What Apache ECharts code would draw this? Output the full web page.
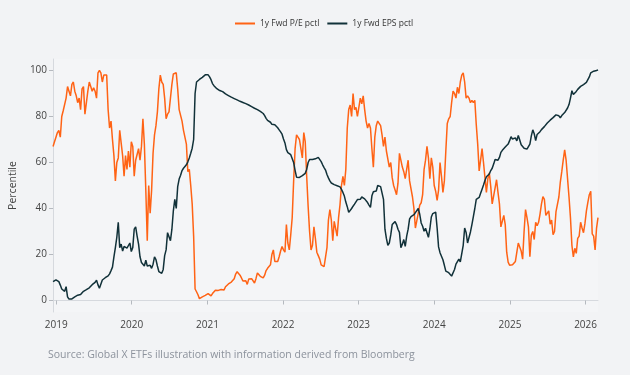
<!DOCTYPE html>
<html>
<head>
<meta charset="utf-8">
<script src="https://cdn.jsdelivr.net/npm/echarts@6/dist/echarts.min.js"></script>
<style>
  html, body { margin: 0; padding: 0; background: #f2f3f5; }
  #chart { width: 630px; height: 375px; }
</style>
</head>
<body>
<div id="chart"></div>
<script>
// weekly observations starting 2018-12-17
const startDate = '2018-12-17';
const stepDays = 7;

const peSeries = [
  67, 69, 71, 73, 74, 71, 80, 82.5, 82, 88,
  93, 91, 89, 94, 95, 91, 89, 86, 88, 83,
  92, 93, 81, 86, 91, 95, 93, 91, 92.5, 91,
  88, 99, 100, 99, 95, 98, 98, 98, 83, 75,
  78, 70, 63, 52, 60, 62, 74, 74, 63, 54,
  63, 57, 65, 58, 69, 67, 54, 61, 61, 66,
  61, 67, 79, 68, 48, 26, 50, 38, 48, 64,
  72, 76, 82, 92, 98, 95, 94, 88, 79, 81,
  82, 88, 94, 98.5, 99, 99, 92, 83, 83, 78,
  74, 74, 68, 56, 57, 50, 42, 28, 5, 3.8,
  2.5, 0.8, 1.2, 1.6, 1, 2.2, 1.8, 3, 2.5, 2,
  3, 2.5, 4.5, 3.8, 4.4, 4, 4.8, 5, 4.6, 6,
  5.2, 7.2, 6.8, 8, 8.5, 9.5, 11.5, 12.5, 12.5, 11,
  9.8, 8.5, 8.7, 8.6, 7, 9.3, 8.8, 9.5, 9, 7.6,
  9.5, 12, 11.5, 10.5, 11, 9.8, 11, 13, 14, 14,
  15.5, 20, 22, 17, 17.5, 17, 19, 21.5, 23.5, 22,
  21, 33, 25, 22, 28.6, 36, 52, 66, 72, 71,
  70, 66, 62, 73, 69, 54, 41, 30, 22, 24,
  32, 27, 21, 19.5, 18, 15.5, 14.7, 14.7, 15.5, 23,
  35, 39.5, 35, 26, 34.4, 34, 28, 36, 41.7, 50,
  54, 50, 57, 75, 83, 85, 80, 90, 83, 84,
  80, 84, 88, 85.5, 89, 83, 78, 75, 77, 75,
  66, 58, 71, 76, 78, 78.5, 76, 72, 67, 71,
  65, 65, 58, 60, 53.4, 50, 48, 46, 51, 64,
  64, 58, 56, 53, 53, 61, 52, 52, 45, 40,
  31.5, 32, 38, 41.5, 42.5, 46, 57, 61, 67, 62,
  53, 62, 58, 50, 47.5, 43.5, 48, 60, 54, 47,
  52, 65, 77, 79, 80, 86, 91, 90, 88, 92.7,
  90, 95, 98, 99, 95, 88, 89, 88, 86, 87,
  86, 87, 76.5, 68, 56.3, 61, 66, 60, 53.5, 47,
  53, 55.5, 49.5, 42, 42, 49, 52.5, 47, 42, 32,
  32, 37, 33, 21, 16.7, 15.3, 14.9, 15.5, 16, 17,
  21, 25, 24.3, 21.5, 18, 30, 39.5, 36, 32, 19,
  28.5, 30, 26.5, 34, 32.5, 34, 37.6, 42, 45.2, 44,
  37, 38, 39, 33.2, 35, 28.6, 30, 38.5, 38.5, 45,
  51.5, 56, 61, 65.5, 61, 53, 45, 36, 24, 19,
  22.7, 20.5, 27, 28, 34, 31.5, 29.5, 33.5, 39, 42.7,
  46, 47.5, 29, 28, 22, 31.5, 36
];

const epsSeries = [
  8.2, 8.5, 9, 9, 8.2, 6.7, 5, 4.2, 4, 6,
  1.6, 0.6, 0.2, 0.7, 1.2, 1.6, 2.2, 2.3, 2.7, 2.6,
  3.3, 4, 4.3, 4.7, 5.3, 5.5, 6, 6.9, 7.3, 7.9,
  8.8, 6.8, 5.3, 5.8, 8.9, 9.5, 9.9, 10.2, 10.7, 11.6,
  13, 14.5, 19, 23, 27.5, 34, 23, 24.5, 21.5, 23.5,
  23.5, 22.8, 22, 25, 21.3, 23, 31, 32, 28, 24.5,
  19, 16.5, 16.6, 15, 17.5, 15, 15, 15.3, 14, 15.8,
  19, 17.8, 15, 12.6, 11.8, 11.8, 13.5, 19.5, 22, 29.5,
  29, 26, 31, 39, 44, 40, 49.5, 52.8, 54.5, 56.5,
  57.5, 57.5, 59, 60.3, 62, 64, 66.2, 70, 90, 95,
  95.8, 96.1, 96.5, 97, 97.8, 98.1, 98.5, 98.1, 97.2, 96,
  94.3, 93.4, 92.7, 92.1, 91.7, 91.3, 91.1, 90.8, 90.3, 89.8,
  89.4, 89.1, 88.7, 88.4, 88.1, 87.8, 87.5, 87.2, 86.9, 86.6,
  86.3, 86.1, 85.8, 85.6, 85.3, 85, 84.7, 84.3, 84, 83.6,
  83.3, 83, 82.7, 82.2, 81.8, 81.3, 80.4, 79.2, 78.3, 77.9,
  77.5, 76.6, 76, 76.4, 75.7, 75.1, 74.2, 73.3, 72.3, 70.2,
  68.5, 65.6, 64.3, 63.7, 63.4, 62.8, 60, 56.6, 53.6, 53,
  53.5, 54, 54.3, 54.7, 55.3, 57, 60, 61.3, 60.6, 61.3,
  61.8, 61.6, 62, 62.2, 61.8, 60.4, 59, 57.8, 56.7, 54.8,
  53.3, 52, 51.1, 50.7, 50.4, 51.1, 49.9, 50.2, 49.4, 48.3,
  47, 45.4, 42.8, 40.8, 38.3, 38.8, 40, 41, 41.9, 42.7,
  43.9, 44.6, 44, 45, 44.8, 44.2, 43.5, 42.6, 41.5, 40.5,
  45.5, 47.3, 47, 47.6, 50, 50.5, 49.5, 49, 44, 31,
  27, 24, 25, 28.5, 33, 32.8, 34.3, 33, 31, 29.6,
  23, 24.5, 26.5, 23.5, 28, 31, 35.5, 36.5, 36, 37.3,
  38.2, 38.2, 40, 37.5, 33.7, 32.3, 30.1, 31.4, 31, 27.5,
  31.2, 36.3, 37.8, 38.5, 38.4, 31.5, 23.3, 20.8, 20.2, 17.7,
  15.3, 12.8, 12.5, 12.1, 11.8, 10.6, 10.9, 13.5, 15.8, 16.4,
  18, 16.8, 16.2, 24, 31.5, 29.6, 25, 25.8, 29.8, 33,
  36.5, 40, 44, 44.7, 44.8, 46.6, 48.4, 50.2, 52.2, 53.8,
  54.3, 55, 56.5, 57.5, 59.3, 61.3, 61.4, 61, 62.2, 64.4,
  65.3, 66.1, 66.7, 67, 68, 69.5, 71.2, 70.2, 70, 70.7,
  69.4, 71.8, 69.8, 67.7, 66.9, 66.2, 66.5, 65.8, 66.1, 68,
  71.6, 74.2, 72.5, 69.5, 72.2, 73, 73.4, 74.3, 75, 75.6,
  76.4, 77.2, 77.8, 78.4, 78.9, 79.5, 80.1, 80.7, 80.8, 80.3,
  79.4, 80.4, 81, 81.7, 82.5, 83.7, 85.2, 88, 91.2, 89.6,
  89.8, 90.9, 91.8, 92.4, 93.1, 93.6, 93.9, 94.3, 94.8, 95.5,
  97.2, 99, 99.4, 99.7, 99.8, 100, 100.3
];

const yearTicks = ['2019', '2020', '2021', '2022', '2023', '2024', '2025', '2026'];
const yTicks = [0, 20, 40, 60, 80, 100];

const DAY = 24 * 3600 * 1000;
const t0 = Date.parse(startDate + 'T00:00:00Z');
const toPoints = (arr) => arr.map((v, i) => [t0 + i * stepDays * DAY, v]);
const tEnd = t0 + (peSeries.length - 1) * stepDays * DAY;
const yearValues = yearTicks.map((y) => Date.parse(y + '-01-01T00:00:00Z'));

const chart = echarts.init(document.getElementById('chart'));
chart.setOption({
  backgroundColor: '#f2f3f5',
  animation: false,
  textStyle: { fontFamily: 'Open Sans' },
  legend: {
    left: 230,
    top: 14,
    itemWidth: 20,
    itemHeight: 2,
    itemGap: 8,
    icon: 'rect',
    textStyle: { fontSize: 8.5, color: '#333' },
    data: ['1y Fwd P/E pctl', '1y Fwd EPS pctl']
  },
  grid: {
    left: 47,
    right: 32,
    top: 59,
    bottom: 63,
    show: true,
    backgroundColor: '#f4f5f7',
    borderWidth: 0
  },
  xAxis: {
    type: 'value',
    min: t0,
    max: tEnd,
    axisLine: { lineStyle: { color: '#d6d9de', width: 1 } },
    axisTick: { show: true, length: 4, lineStyle: { color: '#b5b9bf' }, customValues: yearValues },
    splitLine: { show: false },
    axisLabel: {
      customValues: yearValues,
      formatter: (v) => String(new Date(v).getUTCFullYear()),
      color: '#444',
      fontSize: 10,
      margin: 8
    }
  },
  yAxis: {
    type: 'value',
    min: -5,
    max: 105,
    name: 'Percentile',
    nameLocation: 'middle',
    nameGap: 34,
    nameTextStyle: { color: '#444', fontSize: 10.5 },
    axisLine: { show: true, lineStyle: { color: '#d6d9de', width: 1 } },
    axisTick: { show: true, length: 4, lineStyle: { color: '#b5b9bf' }, customValues: yTicks },
    splitLine: { show: false },
    axisLabel: { customValues: yTicks, color: '#444', fontSize: 10, margin: 6 }
  },
  graphic: [{
    type: 'text',
    left: 48,
    top: 350,
    style: {
      text: 'Source: Global X ETFs illustration with information derived from Bloomberg',
      fill: '#8c929c',
      font: '10.5px "Open Sans"'
    }
  }],
  series: [
    {
      name: '1y Fwd P/E pctl',
      type: 'line',
      showSymbol: false,
      data: toPoints(peSeries),
      lineStyle: { color: '#ff6315', width: 1.5 },
      itemStyle: { color: '#ff6315' }
    },
    {
      name: '1y Fwd EPS pctl',
      type: 'line',
      showSymbol: false,
      data: toPoints(epsSeries),
      lineStyle: { color: '#113139', width: 1.5 },
      itemStyle: { color: '#113139' }
    }
  ]
});
</script>
</body>
</html>
